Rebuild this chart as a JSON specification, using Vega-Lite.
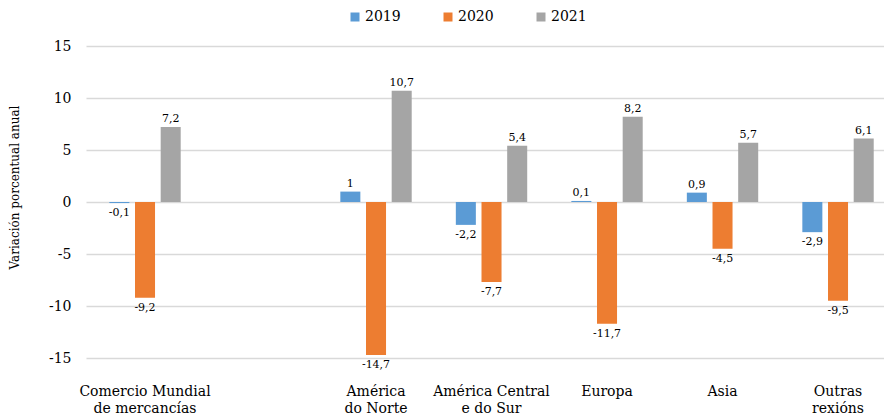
{
  "$schema": "https://vega.github.io/schema/vega-lite/v6.json",
  "autosize": "none",
  "width": 798,
  "height": 312,
  "padding": {"left": 86, "top": 46, "right": 0, "bottom": 58},
  "background": "white",
  "data": {
    "values": [
      {"cat": "Comercio Mundial|de mercancías", "year": "2019", "v": -0.1},
      {"cat": "Comercio Mundial|de mercancías", "year": "2020", "v": -9.2},
      {"cat": "Comercio Mundial|de mercancías", "year": "2021", "v": 7.2},
      {"cat": "América|do Norte", "year": "2019", "v": 1},
      {"cat": "América|do Norte", "year": "2020", "v": -14.7},
      {"cat": "América|do Norte", "year": "2021", "v": 10.7},
      {"cat": "América  Central|e do Sur", "year": "2019", "v": -2.2},
      {"cat": "América  Central|e do Sur", "year": "2020", "v": -7.7},
      {"cat": "América  Central|e do Sur", "year": "2021", "v": 5.4},
      {"cat": "Europa", "year": "2019", "v": 0.1},
      {"cat": "Europa", "year": "2020", "v": -11.7},
      {"cat": "Europa", "year": "2021", "v": 8.2},
      {"cat": "Asia", "year": "2019", "v": 0.9},
      {"cat": "Asia", "year": "2020", "v": -4.5},
      {"cat": "Asia", "year": "2021", "v": 5.7},
      {"cat": "Outras|rexións", "year": "2019", "v": -2.9},
      {"cat": "Outras|rexións", "year": "2020", "v": -9.5},
      {"cat": "Outras|rexións", "year": "2021", "v": 6.1}
    ]
  },
  "encoding": {
    "x": {
      "field": "cat",
      "type": "nominal",
      "sort": null,
      "scale": {
        "domain": ["Comercio Mundial|de mercancías", " ", "América|do Norte", "América  Central|e do Sur", "Europa", "Asia", "Outras|rexións"],
        "paddingInner": 0.382,
        "paddingOuter": 0.1455,
        "align": 0.694
      },
      "axis": {
        "title": null,
        "domain": false,
        "ticks": false,
        "grid": false,
        "labelAngle": 0,
        "labelExpr": "split(datum.label, '|')",
        "labelFont": "DejaVu Serif",
        "labelFontSize": 14,
        "labelColor": "#000000",
        "labelPadding": 26,
        "labelLineHeight": 17,
        "labelBaseline": "top"
      }
    },
    "xOffset": {
      "field": "year",
      "type": "nominal",
      "scale": {"paddingInner": 0.22, "paddingOuter": 0}
    },
    "y": {
      "field": "v",
      "type": "quantitative",
      "scale": {"domain": [-15, 15], "nice": false, "zero": false},
      "axis": {
        "title": "Variación porcentual anual",
        "titleFont": "DejaVu Serif",
        "titleFontSize": 12,
        "titleFontWeight": "normal",
        "titleColor": "#000000",
        "titleX": -72,
        "titleY": 141,
        "titleAngle": -90,
        "titleAlign": "center",
        "titleBaseline": "middle",
        "values": [-15, -10, -5, 0, 5, 10, 15],
        "domain": false,
        "ticks": false,
        "grid": true,
        "gridColor": "#d9d9d9",
        "gridWidth": 1.5,
        "labelFont": "DejaVu Serif",
        "labelFontSize": 14,
        "labelColor": "#000000",
        "labelPadding": 15
      }
    }
  },
  "layer": [
    {
      "mark": {"type": "bar"},
      "encoding": {
        "color": {
          "field": "year",
          "type": "nominal",
          "scale": {"domain": ["2019", "2020", "2021"], "range": ["#5B9BD5", "#ED7D31", "#A5A5A5"]},
          "legend": {
            "title": null,
            "orient": "none",
            "direction": "horizontal",
            "legendX": 262,
            "legendY": -36,
            "padding": 0,
            "symbolType": "square",
            "symbolSize": 81,
            "symbolStrokeWidth": 0,
            "labelFont": "DejaVu Serif",
            "labelFontSize": 14,
            "labelColor": "#000000",
            "labelOffset": 3,
            "columnPadding": 40
          }
        }
      }
    },
    {
      "transform": [{"filter": "datum.v >= 0"}],
      "mark": {"type": "text", "baseline": "bottom", "dy": -3, "font": "DejaVu Serif", "fontSize": 11, "color": "#000000"},
      "encoding": {"text": {"field": "v", "type": "quantitative", "format": ".1~f"}}
    },
    {
      "transform": [{"filter": "datum.v < 0"}],
      "mark": {"type": "text", "baseline": "top", "dy": 4, "font": "DejaVu Serif", "fontSize": 11, "color": "#000000"},
      "encoding": {"text": {"field": "v", "type": "quantitative", "format": ".1~f"}}
    }
  ],
  "config": {
    "view": {"stroke": null},
    "locale": {
      "number": {"decimal": ",", "thousands": ".", "grouping": [3], "currency": ["", " €"], "minus": "-"}
    }
  }
}
